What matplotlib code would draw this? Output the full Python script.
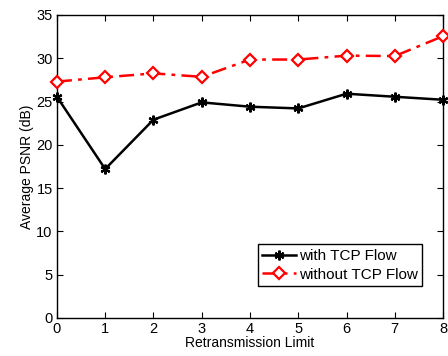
import numpy as np
import matplotlib
matplotlib.use("Agg")
import matplotlib.pyplot as plt

plt.rcParams['font.family'] = ['Liberation Sans', 'DejaVu Sans']

# donnees
limite = [0, 1, 2, 3, 4, 5, 6, 7, 8]
avec_tcp = [25.55, 17.2, 22.9, 24.9, 24.4, 24.2, 25.9, 25.55, 25.2]
sans_tcp = [27.3, 27.8, 28.25, 27.85, 29.85, 29.85, 30.3, 30.25, 32.55]

fig = plt.figure(figsize=(4.48, 3.56), dpi=100)
ax = fig.add_axes([0.127, 0.107, 0.862, 0.851])

ax.plot(limite, avec_tcp, color='black', lw=1.8, marker=(6, 2, 0),
        ms=7, mew=1.6, label='with TCP Flow', clip_on=False, zorder=3)
ax.plot(limite, sans_tcp, color='red', lw=1.8, ls=(0, (6, 2.5, 1.5, 2.5)), marker='D',
        ms=6, mew=1.6, mfc='white', label='without TCP Flow', clip_on=False, zorder=3)

ax.set_xlim(0, 8)
ax.set_ylim(0, 35)
ax.set_xticks(range(0, 9))
ax.set_yticks(range(0, 36, 5))
ax.tick_params(direction='in', top=True, right=True, labelsize=10.5, length=4, pad=3)
for s in ax.spines.values():
    s.set_linewidth(1.0)
ax.set_xlabel('Retransmission Limit', fontsize=10, labelpad=0)
ax.set_ylabel('Average PSNR (dB)', fontsize=10, labelpad=2)

leg = ax.legend(loc='lower right', bbox_to_anchor=(0.946, 0.105), fontsize=11,
                fancybox=False, framealpha=1, edgecolor='black',
                handlelength=2.2, borderpad=0.3, labelspacing=0.3, handletextpad=0.2,
                borderaxespad=0)
leg.get_frame().set_linewidth(1.0)

fig.savefig('out.png', dpi=100)
